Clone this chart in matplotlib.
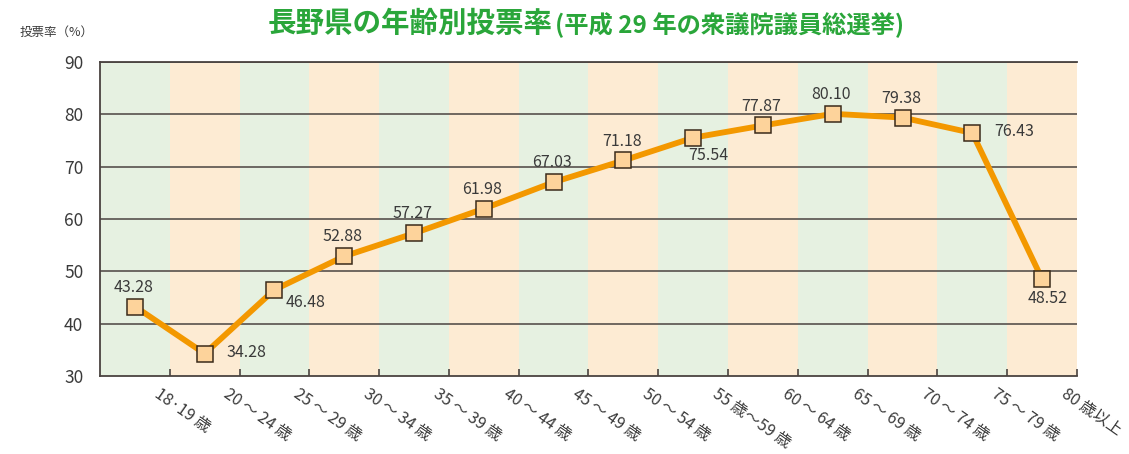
import numpy as np
from matplotlib import pyplot as plt
from matplotlib import transforms

plt.rcParams['font.family'] = ['Noto Sans CJK JP', 'DejaVu Sans']

# data
age_labels = ['18·19 歳', '20 ～ 24 歳', '25 ～ 29 歳', '30 ～ 34 歳', '35 ～ 39 歳',
              '40 ～ 44 歳', '45 ～ 49 歳', '50 ～ 54 歳', '55 歳～59 歳', '60 ～ 64 歳',
              '65 ～ 69 歳', '70 ～ 74 歳', '75 ～ 79 歳', '80 歳以上']
turnout = [43.28, 34.28, 46.48, 52.88, 57.27, 61.98, 67.03, 71.18,
           75.54, 77.87, 80.10, 79.38, 76.43, 48.52]
# where each value label sits relative to its marker
label_pos = ['up', 'right', 'downright', 'up', 'up', 'up', 'up', 'up',
             'down2', 'up', 'up', 'up', 'right', 'down']

green_band = '#e6f1e1'
orange_band = '#fdebd3'
line_col = '#f39800'
text_col = '#3a3a3a'
title_col = '#2aa63a'

fig = plt.figure(figsize=(11.29, 4.54), dpi=100)
ax = fig.add_axes([100 / 1129, 1 - 376 / 454, 977 / 1129, 314 / 454])

n = len(turnout)
x = np.arange(n)

for i in range(n):
    ax.axvspan(i - 0.5, i + 0.5, color=green_band if i % 2 == 0 else orange_band, lw=0, zorder=0)

for yv in range(40, 91, 10):
    ax.axhline(yv, color='#4a4340', lw=1.1, zorder=1)

ax.plot(x, turnout, color=line_col, lw=4.2, zorder=2, solid_joinstyle='round')
ax.plot(x, turnout, ls='none', marker='s', ms=11, mfc='#fdd39b', mec='#3a2a1a', mew=1.1, zorder=3)

# offsets in points: dx, dy, ha
offsets = {'up': (-1, 14, 'center'), 'right': (16, 1, 'left'),
           'downright': (8, -9, 'left'), 'down2': (11, -13, 'center'),
           'down': (4, -14, 'center')}
for xi, v, p in zip(x, turnout, label_pos):
    dx, dy, ha = offsets[p]
    ax.annotate(f'{v:.2f}', (xi, v), xytext=(dx, dy), textcoords='offset points',
                ha=ha, va='center', fontsize=11.5, color=text_col, zorder=4)

ax.set_xlim(-0.5, n - 0.5)
ax.set_ylim(30, 90)
ax.set_yticks(range(30, 91, 10))
ax.tick_params(axis='y', length=0, labelsize=12.5, colors=text_col, pad=12)
ax.set_xticks(x + 0.5)
ax.set_xticklabels([])
ax.tick_params(axis='x', direction='in', length=5, color='#4a4340', width=1.2)

tr = transforms.blended_transform_factory(ax.transData, ax.transAxes)
for xi, lab in zip(x, age_labels):
    ax.text(xi + 0.5 - 0.13, -0.03, lab, transform=tr, rotation=-35, rotation_mode='anchor',
            ha='left', va='top', fontsize=11.5, color=text_col)

ax.spines['right'].set_visible(False)
for s in ['left', 'bottom', 'top']:
    ax.spines[s].set_color('#4a4340')
    ax.spines[s].set_linewidth(1.3)

# title in two sizes, second part placed right after the first
t1 = fig.text(268 / 1129, 0.948, '長野県の年齢別投票率', fontsize=20.5, fontweight='bold',
              color=title_col, ha='left', va='center')
fig.canvas.draw()
bb = t1.get_window_extent()
fig.text(bb.x1 / fig.bbox.width + 0.002, 0.945, '(平成 29 年の衆議院議員総選挙)', fontsize=17.5,
         fontweight='bold', color=title_col, ha='left', va='center')
fig.text(0.017, 0.928, '投票率（%）', fontsize=9, color=text_col, ha='left', va='center')

fig.savefig('out.png', dpi=100)
